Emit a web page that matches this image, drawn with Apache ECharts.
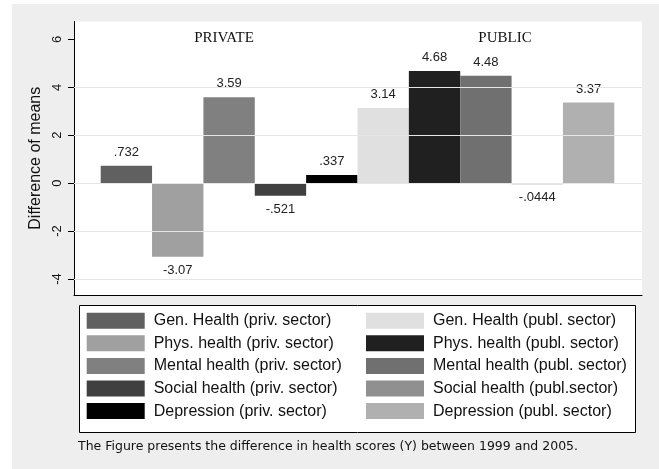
<!DOCTYPE html>
<html>
<head>
<meta charset="utf-8">
<script src="https://cdn.jsdelivr.net/npm/echarts@6/dist/echarts.min.js"></script>
<style>
html,body{margin:0;padding:0;background:#fff;}
#container{width:659px;height:469px;}
</style>
</head>
<body>
<div id="container"></div>
<script>
// bar names (legend), values and colours, in drawing order left -> right
var names = ['Gen. Health (priv. sector)', 'Phys. health (priv. sector)', 'Mental health (priv. sector)',
    'Social health (priv. sector)', 'Depression (priv. sector)',
    'Gen. Health (publ. sector)', 'Phys. health (publ. sector)', 'Mental health (publ. sector)',
    'Social health (publ.sector)', 'Depression (publ. sector)'];
var values = [0.732, -3.07, 3.59, -0.521, 0.337, 3.14, 4.68, 4.48, -0.0444, 3.37];
var colors = ['#606060', '#a0a0a0', '#808080', '#404040', '#000000',
    '#e0e0e0', '#202020', '#707070', '#909090', '#b0b0b0'];
var yTicks = [-4, -2, 0, 2, 4, 6];
var gridLines = [-4, -2, 0, 2, 4];
var yMin = -4.67, yMax = 6.75;

var font = 'Liberation Sans, Arial, sans-serif';

function stataNum(v){
    // stata drops the leading zero: 0.732 -> .732
    return String(v).replace(/^(-?)0\./, '$1.');
}

var slots = names.map(function(n, i){ return String(i); });

var series = [{
    type: 'line',
    xAxisIndex: 0,
    yAxisIndex: 0,
    data: [],
    silent: true,
    markLine: {
        silent: true,
        symbol: 'none',
        label: {show: false},
        lineStyle: {color: '#e6e6e6', width: 1, type: 'solid'},
        data: gridLines.map(function(v){ return {yAxis: v}; })
    }
}];

names.forEach(function(n, i){
    var d = values.map(function(){ return '-'; });
    d[i] = values[i];
    series.push({
        name: n,
        type: 'bar',
        xAxisIndex: 1,
        yAxisIndex: 1,
        data: d,
        barWidth: '100%',
        barGap: '-100%',
        itemStyle: {color: colors[i]},
        label: {
            show: true,
            position: values[i] < 0 ? 'bottom' : 'top',
            distance: 7,
            fontFamily: font,
            fontSize: 13,
            color: '#222',
            formatter: function(p){ return stataNum(p.value); }
        }
    });
});

var legendText = {fontFamily: font, fontSize: 16, color: '#111', padding: [0, 0, 0, 4]};

var option = {
    animation: false,
    backgroundColor: '#fff',
    graphic: [
        {type: 'rect', z: -10, shape: {x: 12, y: 4, width: 647, height: 465}, style: {fill: '#eeeeee'}},
        {type: 'rect', z: -5, shape: {x: 79.5, y: 305.5, width: 556, height: 127}, style: {fill: '#fff', stroke: '#000', lineWidth: 1}},
        {type: 'text', x: 224, y: 38, style: {text: 'PRIVATE', font: '15px "Liberation Serif", serif', fill: '#111', textAlign: 'center', textVerticalAlign: 'middle'}},
        {type: 'text', x: 505, y: 38, style: {text: 'PUBLIC', font: '15px "Liberation Serif", serif', fill: '#111', textAlign: 'center', textVerticalAlign: 'middle'}},
        {type: 'text', x: 78, y: 447, style: {text: 'The Figure presents the difference in health scores (Y) between 1999 and 2005.', font: '12.5px "DejaVu Sans", sans-serif', fill: '#111', textAlign: 'left', textVerticalAlign: 'middle'}}
    ],
    legend: [{
        data: names.slice(0, 5),
        orient: 'vertical',
        left: 86.7,
        top: 312.7,
        padding: 0,
        itemWidth: 58,
        itemHeight: 16,
        itemGap: 6.6,
        icon: 'rect',
        selectedMode: false,
        textStyle: legendText
    }, {
        data: names.slice(5),
        orient: 'vertical',
        left: 366,
        top: 312.7,
        padding: 0,
        itemWidth: 58,
        itemHeight: 16,
        itemGap: 6.6,
        icon: 'rect',
        selectedMode: false,
        textStyle: legendText
    }],
    grid: [
        {left: 74, right: 17, top: 21.5, bottom: 174, show: true, backgroundColor: '#fff', borderWidth: 0},
        {left: 100.7, right: 44.7, top: 21.5, bottom: 174}
    ],
    xAxis: [{
        gridIndex: 0,
        type: 'value',
        min: 0,
        max: 1,
        axisLine: {show: true, onZero: false, lineStyle: {color: '#000', width: 1}},
        axisTick: {show: false},
        axisLabel: {show: false},
        splitLine: {show: false}
    }, {
        gridIndex: 1,
        type: 'category',
        data: slots,
        show: false
    }],
    yAxis: [{
        gridIndex: 0,
        type: 'value',
        min: yMin,
        max: yMax,
        name: 'Difference of means',
        nameLocation: 'middle',
        nameGap: 28,
        nameTextStyle: {fontFamily: font, fontSize: 16, color: '#111'},
        axisLine: {show: true, onZero: false, lineStyle: {color: '#000', width: 1}},
        axisTick: {show: true, length: 6, customValues: yTicks, lineStyle: {color: '#000'}},
        axisLabel: {
            customValues: yTicks,
            rotate: 90,
            margin: 10,
            fontFamily: font,
            fontSize: 13,
            color: '#111',
            formatter: function(v){ return String(v); }
        },
        splitLine: {show: false}
    }, {
        gridIndex: 1,
        type: 'value',
        min: yMin,
        max: yMax,
        show: false,
        splitLine: {show: false}
    }],
    series: series
};

var myChart = echarts.init(document.getElementById('container'));
myChart.setOption(option);
</script>
</body>
</html>
